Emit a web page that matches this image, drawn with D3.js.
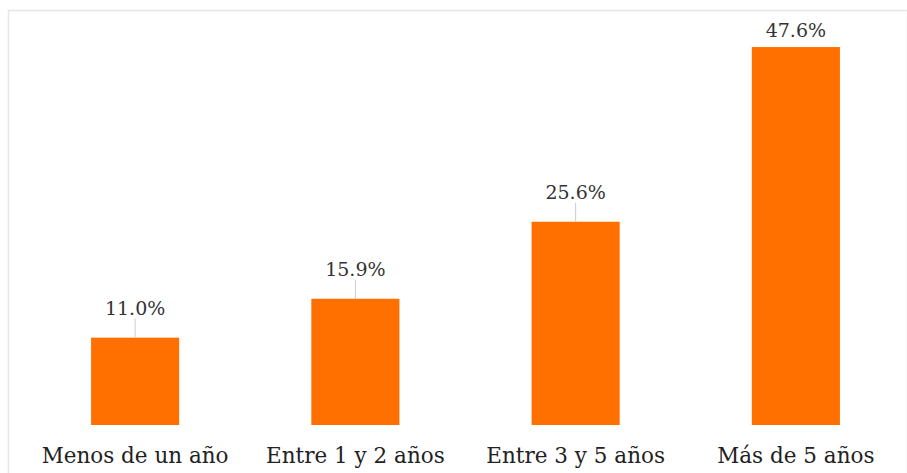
<!DOCTYPE html>
<html>
<head>
<meta charset="utf-8">
<script src="https://cdn.jsdelivr.net/npm/d3@7"></script>
<style>
  html, body { margin: 0; padding: 0; background: #ffffff; }
  svg { display: block; }
</style>
</head>
<body>
<svg id="chart" width="907" height="473"></svg>
<script>
// Time ranges and share of respondents (%)
const categories = ["Menos de un año", "Entre 1 y 2 años", "Entre 3 y 5 años", "Más de 5 años"];
const values = [11.0, 15.9, 25.6, 47.6];

const W = 907, H = 473;
const svg = d3.select("#chart");

// light frame around the plotting area
svg.append("rect")
  .attr("x", 8.5).attr("y", 10.5)
  .attr("width", W - 8).attr("height", H)
  .attr("fill", "#ffffff")
  .attr("stroke", "#e6e6e6")
  .attr("stroke-width", 1.5);

const x = d3.scaleBand()
  .domain(categories)
  .range([25, 906])
  .paddingInner(0.6)
  .paddingOuter(0.3);

const y = d3.scaleLinear()
  .domain([0, 50])
  .range([425, 28]);

const data = categories.map((c, i) => ({ cat: c, val: values[i] }));

// bars
svg.append("g").selectAll("rect")
  .data(data)
  .join("rect")
  .attr("x", d => x(d.cat))
  .attr("y", d => y(d.val))
  .attr("width", x.bandwidth())
  .attr("height", d => y(0) - y(d.val))
  .attr("fill", "#ff7000");

// value labels, with a short leader line to the bar
const labelGap = 23, topLimit = 37;
const labels = svg.append("g");
data.forEach(d => {
  const cx = x(d.cat) + x.bandwidth() / 2;
  const top = y(d.val);
  const base = Math.max(top - labelGap, topLimit);
  if (top - base > 14) {
    labels.append("line")
      .attr("x1", cx).attr("x2", cx)
      .attr("y1", base + 4).attr("y2", top)
      .attr("stroke", "#cccccc")
      .attr("stroke-width", 1);
  }
  labels.append("text")
    .attr("x", cx)
    .attr("y", base)
    .attr("text-anchor", "middle")
    .attr("font-family", "DejaVu Serif, serif")
    .attr("font-size", 19)
    .attr("fill", "#333333")
    .text(d3.format(".1f")(d.val) + "%");
});

// category axis labels (no axis line or ticks)
const xAxis = d3.axisBottom(x).tickSize(0).tickPadding(0);
const gx = svg.append("g")
  .attr("transform", "translate(0,447)")
  .call(xAxis);
gx.select(".domain").remove();
gx.selectAll("text")
  .attr("dy", "0.76em")
  .attr("font-family", "DejaVu Serif, serif")
  .attr("font-size", 21.5)
  .attr("fill", "#222222");
</script>
</body>
</html>
